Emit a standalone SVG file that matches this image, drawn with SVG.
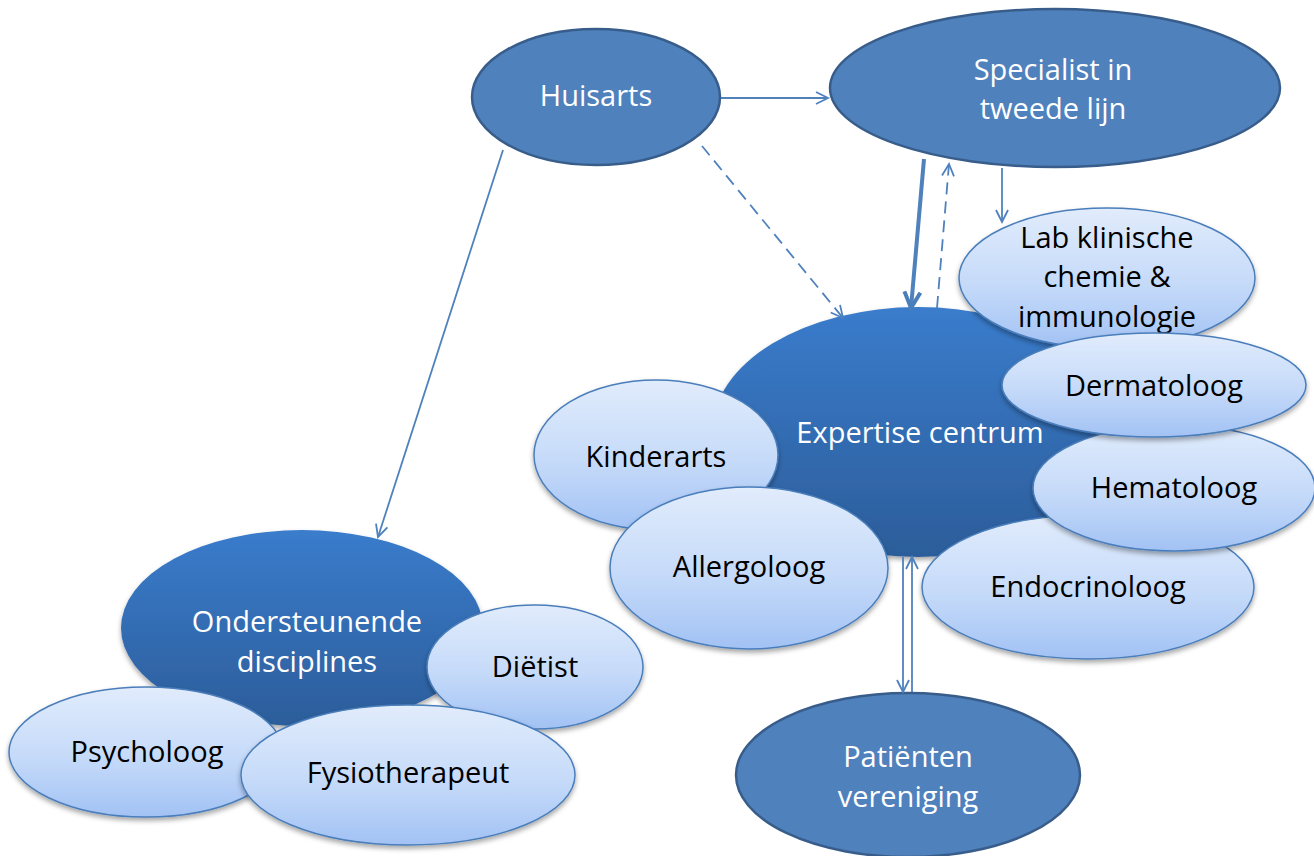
<svg xmlns="http://www.w3.org/2000/svg" width="1314" height="856" viewBox="0 0 1314 856">
<defs>
  <linearGradient id="gDark" x1="0" y1="0" x2="0" y2="1">
    <stop offset="0" stop-color="#3a7ccc"/>
    <stop offset="1" stop-color="#2c5d9a"/>
  </linearGradient>
  <linearGradient id="gLight" x1="0" y1="0" x2="0" y2="1">
    <stop offset="0" stop-color="#e1ecfc"/>
    <stop offset="0.55" stop-color="#c5daf9"/>
    <stop offset="1" stop-color="#a2c2f4"/>
  </linearGradient>
  <filter id="shadow" x="-10%" y="-10%" width="120%" height="130%">
    <feDropShadow dx="0" dy="3" stdDeviation="2.5" flood-color="#000" flood-opacity="0.35"/>
  </filter>
  <marker id="arr" markerUnits="userSpaceOnUse" markerWidth="16" markerHeight="16" viewBox="0 0 16 16" refX="14" refY="8" orient="auto">
    <path d="M2,2 L14,8 L2,14" fill="none" stroke="#4f81bd" stroke-width="1.8"/>
  </marker>
  <marker id="arrBig" markerUnits="userSpaceOnUse" markerWidth="22" markerHeight="22" viewBox="0 0 22 22" refX="19" refY="11" orient="auto">
    <path d="M3,3 L19,11 L3,19" fill="none" stroke="#4a7ebb" stroke-width="4"/>
  </marker>
  <style>
    .dark { fill: #4f81bd; stroke: #385d8a; stroke-width: 2.5; }
    .grad { fill: url(#gDark); filter: url(#shadow); }
    .light { fill: url(#gLight); stroke: #4a7ebb; stroke-width: 1.5; filter: url(#shadow); }
    text { font-family: "Open Sans", "Liberation Sans", sans-serif; font-size: 29px; text-anchor: middle; }
    .w { fill: #ffffff; }
    .b { fill: #000000; }
    .c { fill: none; stroke: #4f81bd; stroke-width: 1.8; }
    .dash { stroke-dasharray: 12 7; }
  </style>
</defs>

<g id="huisarts">
  <ellipse class="dark" cx="596" cy="97" rx="124" ry="68"/>
  <text class="w" x="596" y="106">Huisarts</text>
</g>
<g id="specialist">
  <ellipse class="dark" cx="1055" cy="88" rx="225" ry="79"/>
  <text class="w" x="1053" y="80">Specialist in</text>
  <text class="w" x="1053" y="119">tweede lijn</text>
</g>
<g id="expertise">
  <ellipse class="grad" cx="918" cy="432" rx="206" ry="125"/>
  <text class="w" x="920" y="443">Expertise centrum</text>
</g>
<g id="endocrinoloog">
  <ellipse class="light" cx="1088" cy="587" rx="166" ry="72"/>
  <text class="b" x="1088" y="597">Endocrinoloog</text>
</g>
<g id="hematoloog">
  <ellipse class="light" cx="1174" cy="488" rx="141" ry="63"/>
  <text class="b" x="1174" y="498">Hematoloog</text>
</g>
<g id="lab">
  <ellipse class="light" cx="1107" cy="278" rx="148" ry="70"/>
  <text class="b" x="1107" y="248">Lab klinische</text>
  <text class="b" x="1107" y="287">chemie &amp;</text>
  <text class="b" x="1107" y="327">immunologie</text>
</g>
<g id="dermatoloog">
  <ellipse class="light" cx="1154" cy="385" rx="152" ry="52"/>
  <text class="b" x="1154" y="396">Dermatoloog</text>
</g>
<g id="kinderarts">
  <ellipse class="light" cx="656" cy="455" rx="122" ry="75"/>
  <text class="b" x="656" y="467">Kinderarts</text>
</g>
<g id="allergoloog">
  <ellipse class="light" cx="749" cy="568" rx="139" ry="81"/>
  <text class="b" x="749" y="577">Allergoloog</text>
</g>
<g id="ondersteunende">
  <ellipse class="grad" cx="302" cy="628" rx="181" ry="98"/>
  <text class="w" x="307" y="632">Ondersteunende</text>
  <text class="w" x="307" y="672">disciplines</text>
</g>
<g id="dietist">
  <ellipse class="light" cx="535" cy="667" rx="108" ry="62"/>
  <text class="b" x="535" y="677">Diëtist</text>
</g>
<g id="psycholoog">
  <ellipse class="light" cx="146" cy="752" rx="137" ry="65"/>
  <text class="b" x="147" y="762">Psycholoog</text>
</g>
<g id="fysiotherapeut">
  <ellipse class="light" cx="408" cy="775" rx="167" ry="70"/>
  <text class="b" x="408" y="783">Fysiotherapeut</text>
</g>
<g id="patienten">
  <ellipse class="dark" cx="908" cy="775" rx="172" ry="82"/>
  <text class="w" x="908" y="767">Patiënten</text>
  <text class="w" x="908" y="807">vereniging</text>
</g>

<g id="connectors">
  <line class="c" x1="721" y1="98" x2="828" y2="98" marker-end="url(#arr)"/>
  <line class="c dash" x1="702" y1="146" x2="843" y2="318" marker-end="url(#arr)"/>
  <line class="c" x1="503" y1="150" x2="378" y2="537" marker-end="url(#arr)"/>
  <line class="c" x1="924" y1="159" x2="911" y2="308" stroke="#4a7ebb" style="stroke-width:4" marker-end="url(#arrBig)"/>
  <line class="c dash" x1="937" y1="308" x2="949" y2="164" marker-end="url(#arr)"/>
  <line class="c" x1="1002" y1="168" x2="1002" y2="222" marker-end="url(#arr)"/>
  <line class="c" x1="903" y1="557" x2="903" y2="692" marker-end="url(#arr)"/>
  <line class="c" x1="912" y1="692" x2="912" y2="557" marker-end="url(#arr)"/>
</g>
</svg>
